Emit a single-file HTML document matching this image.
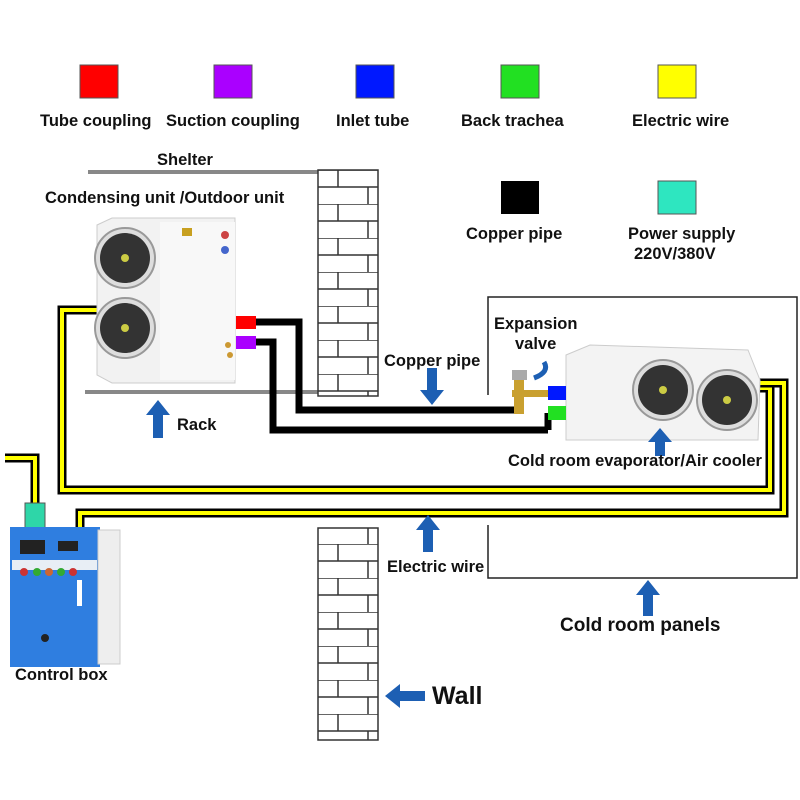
<!DOCTYPE html>
<html><head><meta charset="utf-8"><style>
body{margin:0;background:#fff}
svg{display:block}
text{font-family:"Liberation Sans",Arial,sans-serif;font-weight:bold;fill:#111}
</style></head><body>
<svg width="800" height="800" viewBox="0 0 800 800" xmlns="http://www.w3.org/2000/svg">
<defs>
<pattern id="brick" x="318" y="170" width="60" height="34" patternUnits="userSpaceOnUse">
<rect width="60" height="34" fill="#fff"/>
<path d="M0 0H60M0 17H60M20 0V17M50 17V34" stroke="#333" stroke-width="1.5" fill="none"/>
</pattern>
<g id="fan"><circle r="30" fill="#ddd" stroke="#999" stroke-width="2"/><circle r="25" fill="#333"/><circle r="4" fill="#cc4"/></g>
</defs>
<rect x="80" y="65" width="38" height="33" fill="#f00" stroke="#555"/>
<rect x="214" y="65" width="38" height="33" fill="#a0f" stroke="#555"/>
<rect x="356" y="65" width="38" height="33" fill="#0018ff" stroke="#555"/>
<rect x="501" y="65" width="38" height="33" fill="#22e022" stroke="#555"/>
<rect x="658" y="65" width="38" height="33" fill="#ff0" stroke="#555"/>
<text x="40" y="126" font-size="16.5">Tube coupling</text>
<text x="166" y="126" font-size="16.5">Suction coupling</text>
<text x="336" y="126" font-size="16.5">Inlet tube</text>
<text x="461" y="126" font-size="16.5">Back trachea</text>
<text x="632" y="126" font-size="16.5">Electric wire</text>
<rect x="501" y="181" width="38" height="33" fill="#000"/>
<rect x="658" y="181" width="38" height="33" fill="#2ee6c0" stroke="#555"/>
<text x="466" y="239" font-size="16.5">Copper pipe</text>
<text x="628" y="239" font-size="16.5">Power supply</text>
<text x="634" y="259" font-size="16.5">220V/380V</text>
<text x="157" y="165" font-size="16.5">Shelter</text>
<line x1="88" y1="172" x2="318" y2="172" stroke="#888" stroke-width="4"/>
<text x="45" y="203" font-size="16.5">Condensing unit /Outdoor unit</text>
<line x1="85" y1="392" x2="318" y2="392" stroke="#888" stroke-width="4"/>
<rect x="318" y="170" width="60" height="226" fill="url(#brick)" stroke="#333" stroke-width="1.5"/>
<rect x="318" y="528" width="60" height="212" fill="url(#brick)" stroke="#333" stroke-width="1.5"/>
<path d="M488 395V297H797V578H488V525" fill="none" stroke="#222" stroke-width="1.5"/>
<g fill="none" stroke-linejoin="miter">
<path d="M97 310H62V490H770V388H755" stroke="#000" stroke-width="9"/>
<path d="M97 310H62V490H770V388H755" stroke="#ff0" stroke-width="4"/>
<path d="M80 528V513H784V383H755" stroke="#000" stroke-width="9"/>
<path d="M80 528V513H784V383H755" stroke="#ff0" stroke-width="4"/>
<path d="M5 458H35V505" stroke="#000" stroke-width="9"/>
<path d="M5 458H35V505" stroke="#ff0" stroke-width="4"/>
</g>
<rect x="25" y="503" width="20" height="26" fill="#2ed6a8" stroke="#555"/>
<g fill="none" stroke="#000" stroke-width="7">
<path d="M255 322H299V410H515"/>
<path d="M255 342H273V430H548"/>
<path d="M548 430V413"/>
</g>
<polygon points="97,225 112,218 235,218 235,383 112,383 97,375" fill="#f2f2f2" stroke="#ccc"/>
<rect x="160" y="222" width="75" height="158" fill="#f8f8f8"/>
<use href="#fan" x="125" y="258"/>
<use href="#fan" x="125" y="328"/>
<rect x="182" y="228" width="10" height="8" fill="#c8a020"/>
<circle cx="225" cy="235" r="4" fill="#c44"/><circle cx="225" cy="250" r="4" fill="#46c"/>
<rect x="236" y="316" width="20" height="13" fill="#f00"/>
<rect x="236" y="336" width="20" height="13" fill="#a0f"/>
<circle cx="228" cy="345" r="3" fill="#c93"/><circle cx="230" cy="355" r="3" fill="#c93"/>
<polygon points="566,355 590,345 748,350 760,380 758,440 566,440" fill="#f3f3f3" stroke="#ccc"/>
<use href="#fan" x="663" y="390"/>
<use href="#fan" x="727" y="400"/>
<rect x="548" y="386" width="18" height="14" fill="#0018ff"/>
<rect x="548" y="406" width="18" height="14" fill="#22e022"/>
<rect x="512" y="390" width="36" height="7" fill="#c9a030"/>
<rect x="514" y="378" width="10" height="36" fill="#c9a030"/>
<rect x="512" y="370" width="15" height="10" fill="#aaa"/>
<path d="M534 378Q550 372 544 362" fill="none" stroke="#1d5fb3" stroke-width="5"/>
<rect x="10" y="527" width="90" height="140" fill="#2f7ee0"/>
<rect x="98" y="530" width="22" height="134" fill="#eee" stroke="#ccc"/>
<rect x="12" y="560" width="85" height="10" fill="#e8eef5"/>
<rect x="20" y="540" width="25" height="14" fill="#222"/>
<rect x="58" y="541" width="20" height="10" fill="#222"/>
<circle cx="24" cy="572" r="4" fill="#c33"/><circle cx="37" cy="572" r="4" fill="#3a3"/><circle cx="49" cy="572" r="4" fill="#c63"/><circle cx="61" cy="572" r="4" fill="#3a3"/><circle cx="73" cy="572" r="4" fill="#c33"/>
<rect x="77" y="580" width="5" height="26" fill="#fff"/>
<circle cx="45" cy="638" r="4" fill="#222"/>
<text x="15" y="680" font-size="16.5">Control box</text>
<g fill="#1d5fb3">
<polygon points="158,400 146,415 153,415 153,438 163,438 163,415 170,415"/>
<polygon points="432,405 420,390 427,390 427,368 437,368 437,390 444,390"/>
<polygon points="660,428 648,442 655,442 655,456 665,456 665,442 672,442"/>
<polygon points="428,515 416,530 423,530 423,552 433,552 433,530 440,530"/>
<polygon points="648,580 636,595 643,595 643,616 653,616 653,595 660,595"/>
<polygon points="385,696 400,684 400,691 425,691 425,701 400,701 400,708"/>
</g>
<text x="177" y="430" font-size="16.5">Rack</text>
<text x="384" y="366" font-size="16.5">Copper pipe</text>
<text x="494" y="329" font-size="16.5">Expansion</text>
<text x="515" y="349" font-size="16.5">valve</text>
<text x="508" y="466" font-size="16.5">Cold room evaporator/Air cooler</text>
<text x="387" y="572" font-size="16.5">Electric wire</text>
<text x="560" y="631" font-size="19">Cold room panels</text>
<text x="432" y="704" font-size="25">Wall</text>
</svg>
</body></html>
